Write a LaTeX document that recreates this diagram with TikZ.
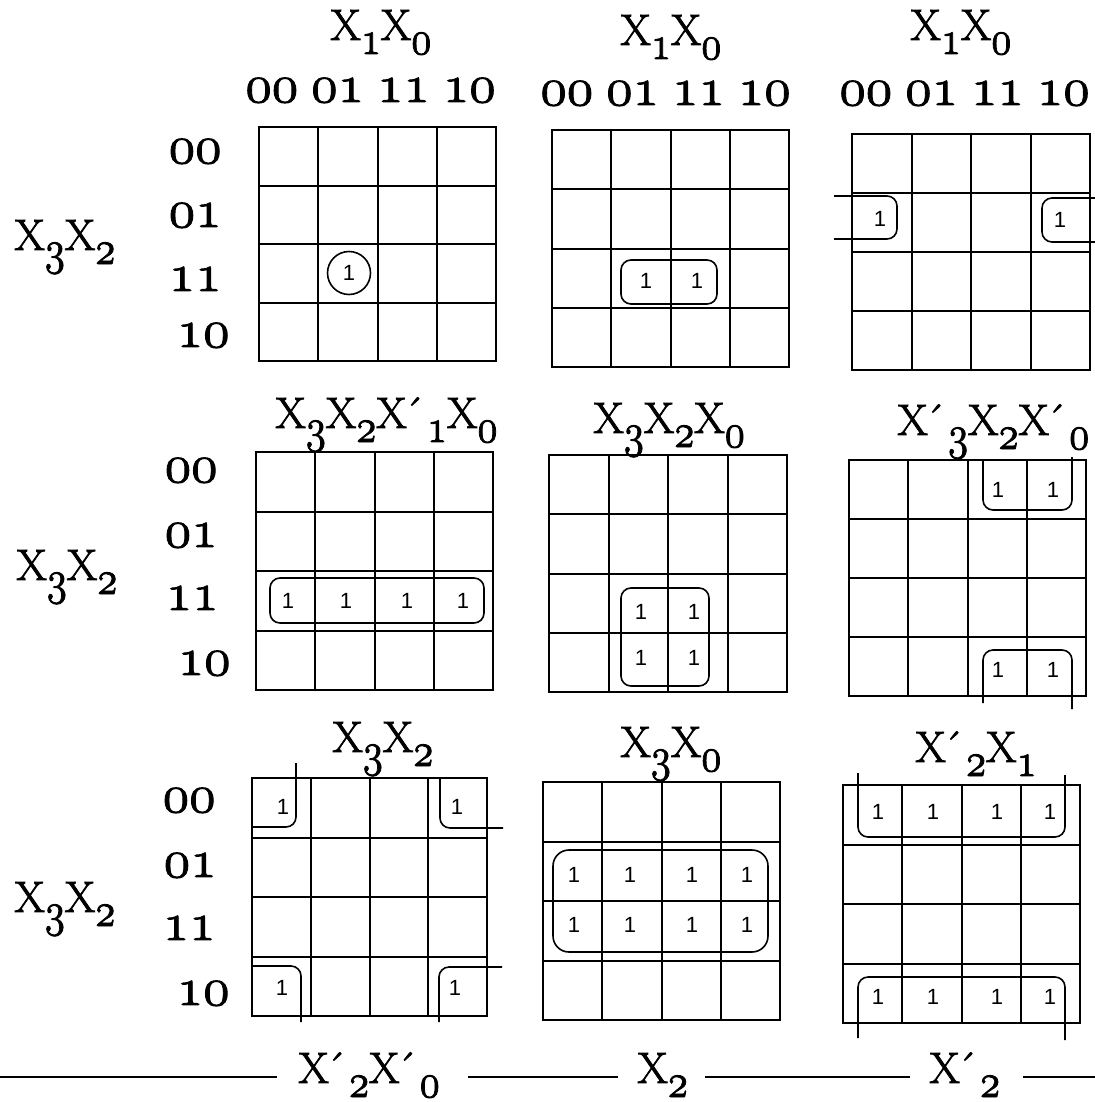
\documentclass[tikz,border=0pt]{standalone}
\usepackage{fontspec}
\usepackage{graphicx}
\newfontfamily\cellfont{Liberation Sans}
\DeclareFontFamily{OML}{osf}{\skewchar\font=127 }
\DeclareFontShape{OML}{osf}{m}{it}{<-> cmmi12}{}
\newcommand\os[1]{{\usefont{OML}{osf}{m}{it}#1}}
\newcommand\dg[1]{{\fontsize{27}{30}\selectfont\os{#1}}}
\newcommand\hdr{\dg{00}\hspace{6.5pt}\dg{01}\hspace{6.5pt}\dg{11}\hspace{6.5pt}\dg{10}}
\newcommand\sbs[1]{\raisebox{-7pt}{\scalebox{0.85}[1]{\fontsize{24}{24}\selectfont\os{#1}}}}
\newcommand\pr{\kern-1.5pt\char"00B4\kern1.5pt}
\newcommand\heavy{\special{pdf:literal 2 Tr 0.45 w}}
\newcommand\plain{\special{pdf:literal 0 Tr}}
\newcommand\kmap[4]{%
  \draw[gridl] (#1,#2) rectangle (#3,#4);
  \foreach \i in {1,2,3}{%
    \draw[gridl] ({#1+\i*(#3-#1)/4},#2) -- ({#1+\i*(#3-#1)/4},#4);
    \draw[gridl] (#1,{#2+\i*(#4-#2)/4}) -- (#3,{#2+\i*(#4-#2)/4});
  }}
\tikzset{
  gridl/.style={line width=1pt},
  loopl/.style={line width=0.8pt, rounded corners=5pt},
  lbl/.style={font=\fontsize{22}{26}\selectfont\heavy, inner sep=0pt, anchor=base west},
  rlbl/.style={font=\heavy, inner sep=0pt, anchor=base east},
  one/.style={font=\plain\cellfont\fontsize{11}{13}\selectfont, inner sep=0pt},
}
\begin{document}
\begin{tikzpicture}[x=0.5pt,y=-0.5pt]
\useasboundingbox (0,0) rectangle (1095,1102);
% ---------- row 1 headers
\node[lbl] (h1) at (330,40) {X\sbs{1}X\sbs{0}};
\node[lbl] (h2) at (620,45) {X\sbs{1}X\sbs{0}};
\node[lbl] (h3) at (910,40) {X\sbs{1}X\sbs{0}};
\node[lbl] (c1) at (245,102) {\hdr};
\node[lbl] (c2) at (540,105) {\hdr};
\node[lbl] (c3) at (839,105) {\hdr};
% ---------- row labels
\node[rlbl] (r1a) at (222,163) {\dg{00}};
\node[rlbl] (r1b) at (222,227) {\dg{01}};
\node[rlbl] (r1c) at (222,291) {\dg{11}};
\node[rlbl] (r1d) at (230,347) {\dg{10}};
\node[lbl] (v1) at (14,250) {X\sbs{3}X\sbs{2}};
\node[rlbl] (r2a) at (218,482) {\dg{00}};
\node[rlbl] (r2b) at (218,547) {\dg{01}};
\node[rlbl] (r2c) at (219,610) {\dg{11}};
\node[rlbl] (r2d) at (231,675) {\dg{10}};
\node[lbl] (v2) at (16,580) {X\sbs{3}X\sbs{2}};
\node[rlbl] (r3a) at (216,812) {\dg{00}};
\node[rlbl] (r3b) at (217,877) {\dg{01}};
\node[rlbl] (r3c) at (216,940) {\dg{11}};
\node[rlbl] (r3d) at (230,1005) {\dg{10}};
\node[lbl] (v3) at (14,912) {X\sbs{3}X\sbs{2}};
% ---------- grids
\kmap{259}{127}{496}{361}
\kmap{552}{130}{789}{367}
\kmap{852}{134}{1090}{370}
\kmap{256}{452}{493}{690}
\kmap{549}{455}{787}{692}
\kmap{849}{460}{1086}{696}
\kmap{252}{778}{487}{1016}
\kmap{543}{782}{780}{1020}
\kmap{843}{785}{1080}{1023}
% ---------- grid 1
\node[one, draw, circle, minimum size=21.5pt, line width=0.8pt] (g1a) at (349,273) {1};
% ---------- grid 2
\node[one] (g2a) at (646,281) {1};
\node[one] (g2b) at (697,281) {1};
\draw[loopl] (621,260) rectangle (717,304);
% ---------- grid 3
\node[one] (g3a) at (880,219) {1};
\node[one] (g3b) at (1060,220) {1};
\draw[loopl] (834,196) -- (897,196) -- (897,239) -- (834,239);
\draw[loopl] (1095,198) -- (1042,198) -- (1042,242) -- (1095,242);
% ---------- row 2 titles
\node[lbl] (t4) at (275,428) {X\sbs{3}X\sbs{2}X\pr\sbs{1}X\sbs{0}};
\node[lbl] (t5) at (593,433) {X\sbs{3}X\sbs{2}X\sbs{0}};
\node[lbl] (t6) at (897,435) {X\pr\sbs{3}X\sbs{2}X\pr\sbs{0}};
% ---------- grid 4
\node[one] (g4a) at (288,601) {1};
\node[one] (g4b) at (346,601) {1};
\node[one] (g4c) at (407,601) {1};
\node[one] (g4d) at (463,601) {1};
\draw[loopl] (270,578) rectangle (484,623);
% ---------- grid 5
\node[one] (g5a) at (641,612) {1};
\node[one] (g5b) at (694,612) {1};
\node[one] (g5c) at (641,658) {1};
\node[one] (g5d) at (694,658) {1};
\draw[loopl] (621,588) rectangle (709,686);
% ---------- grid 6
\node[one] (g6a) at (998,490) {1};
\node[one] (g6b) at (1053,490) {1};
\node[one] (g6c) at (998,670) {1};
\node[one] (g6d) at (1053,670) {1};
\draw[loopl] (983,461) -- (983,510) -- (1072,510) -- (1072,457);
\draw[loopl] (983,703) -- (983,650) -- (1072,650) -- (1072,709);
% ---------- row 3 titles
\node[lbl] (t7) at (332,752) {X\sbs{3}X\sbs{2}};
\node[lbl] (t8) at (620,757) {X\sbs{3}X\sbs{0}};
\node[lbl] (t9) at (915,762) {X\pr\sbs{2}X\sbs{1}};
% ---------- grid 7
\node[one] (g7a) at (283,807) {1};
\node[one] (g7b) at (457,807) {1};
\node[one] (g7c) at (282,988) {1};
\node[one] (g7d) at (455,988) {1};
\draw[loopl] (296,763) -- (296,827) -- (252,827);
\draw[loopl] (440,777) -- (440,828) -- (503,828);
\draw[loopl] (252,966) -- (301,966) -- (301,1022);
\draw[loopl] (502,967) -- (439,967) -- (439,1022);
% ---------- grid 8
\foreach \x [count=\k] in {574,630,692,747}{
  \node[one] (g8a\k) at (\x,875) {1};
  \node[one] (g8b\k) at (\x,925) {1};
}
\draw[loopl, rounded corners=8pt] (553,850) rectangle (768,952);
% ---------- grid 9
\foreach \x [count=\k] in {878,933,997,1050}{
  \node[one] (g9a\k) at (\x,812) {1};
  \node[one] (g9b\k) at (\x,997) {1};
}
\draw[loopl] (858,773) -- (858,837) -- (1065,837) -- (1065,775);
\draw[loopl] (858,1038) -- (858,977) -- (1065,977) -- (1065,1040);
% ---------- bottom
\node[lbl] (b1) at (298,1083) {X\pr\sbs{2}X\pr\sbs{0}};
\node[lbl] (b2) at (637,1083) {X\sbs{2}};
\node[lbl] (b3) at (929,1083) {X\pr\sbs{2}};
\coordinate (s0) at (0,1077);
\coordinate (s1) at (277,1077);
\coordinate (s2) at (468,1077);
\coordinate (s3) at (618,1077);
\coordinate (s4) at (705,1077);
\coordinate (s5) at (910,1077);
\coordinate (s6) at (1023,1077);
\coordinate (s7) at (1095,1077);
\draw[line width=1pt] (s0) -- (s1) (s2) -- (s3) (s4) -- (s5) (s6) -- (s7);
\end{tikzpicture}
\end{document}
